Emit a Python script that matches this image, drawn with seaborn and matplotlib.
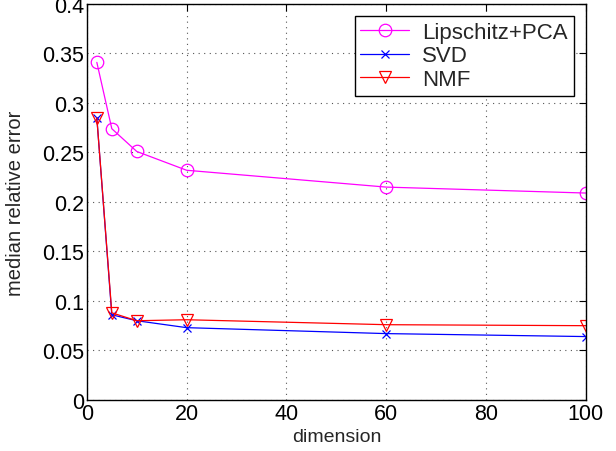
import matplotlib
matplotlib.use("Agg")
import matplotlib.pyplot as plt
import seaborn as sns
import pandas as pd
from matplotlib.ticker import FuncFormatter

dims = [2, 5, 10, 20, 60, 100]
lip_pca = [0.341, 0.274, 0.251, 0.232, 0.215, 0.209]
svd = [0.285, 0.086, 0.080, 0.073, 0.067, 0.064]
nmf = [0.285, 0.088, 0.080, 0.081, 0.076, 0.075]
series_names = ["Lipschitz+PCA", "SVD", "NMF"]
x_ticks = [0, 20, 40, 60, 80, 100]
y_ticks = [0, 0.05, 0.1, 0.15, 0.2, 0.25, 0.3, 0.35, 0.4]

sns.set_style("white")
plt.rcParams['font.family'] = ['Liberation Sans', 'DejaVu Sans']

fig = plt.figure(figsize=(6.16, 4.52), dpi=100)
ax = fig.add_axes([0.141, 0.113, 0.810, 0.876])

styles = [("#ff00ff", "o", 9), ("#0000ff", "x", 6), ("#ff0000", "v", 9)]
for name, vals, (col, mk, ms) in zip(series_names, [lip_pca, svd, nmf], styles):
    df = pd.DataFrame({"dimension": dims, "err": vals})
    sns.lineplot(data=df, x="dimension", y="err", ax=ax, color=col, marker=mk,
                 markersize=ms, markerfacecolor="none", markeredgecolor=col,
                 markeredgewidth=0.9, linewidth=0.9, label=name)

ax.set_xlim(0, 100)
ax.set_ylim(0, 0.4)
ax.set_xticks(x_ticks)
ax.set_yticks(y_ticks)
ax.yaxis.set_major_formatter(FuncFormatter(lambda v, p: f"{v:g}"))
ax.tick_params(direction="in", length=5, width=0.8, top=True, right=True,
               labelsize=15.5, colors="black", pad=2)
ax.grid(True, linestyle=(0, (1, 4)), color="#555555", linewidth=0.8)
for s in ax.spines.values():
    s.set_color("black")
    s.set_linewidth(1.0)
ax.set_xlabel("dimension", fontsize=14, labelpad=3)
ax.set_ylabel("median relative error", fontsize=14.5, labelpad=12)

leg = ax.legend(loc="upper right", fontsize=16, frameon=True, fancybox=False,
                edgecolor="black", borderaxespad=0.55, handlelength=2.2,
                labelspacing=0.12, borderpad=0.25, handletextpad=0.6)
leg.get_frame().set_linewidth(1.0)
leg.get_frame().set_alpha(1)

fig.savefig("out.png", dpi=100)
